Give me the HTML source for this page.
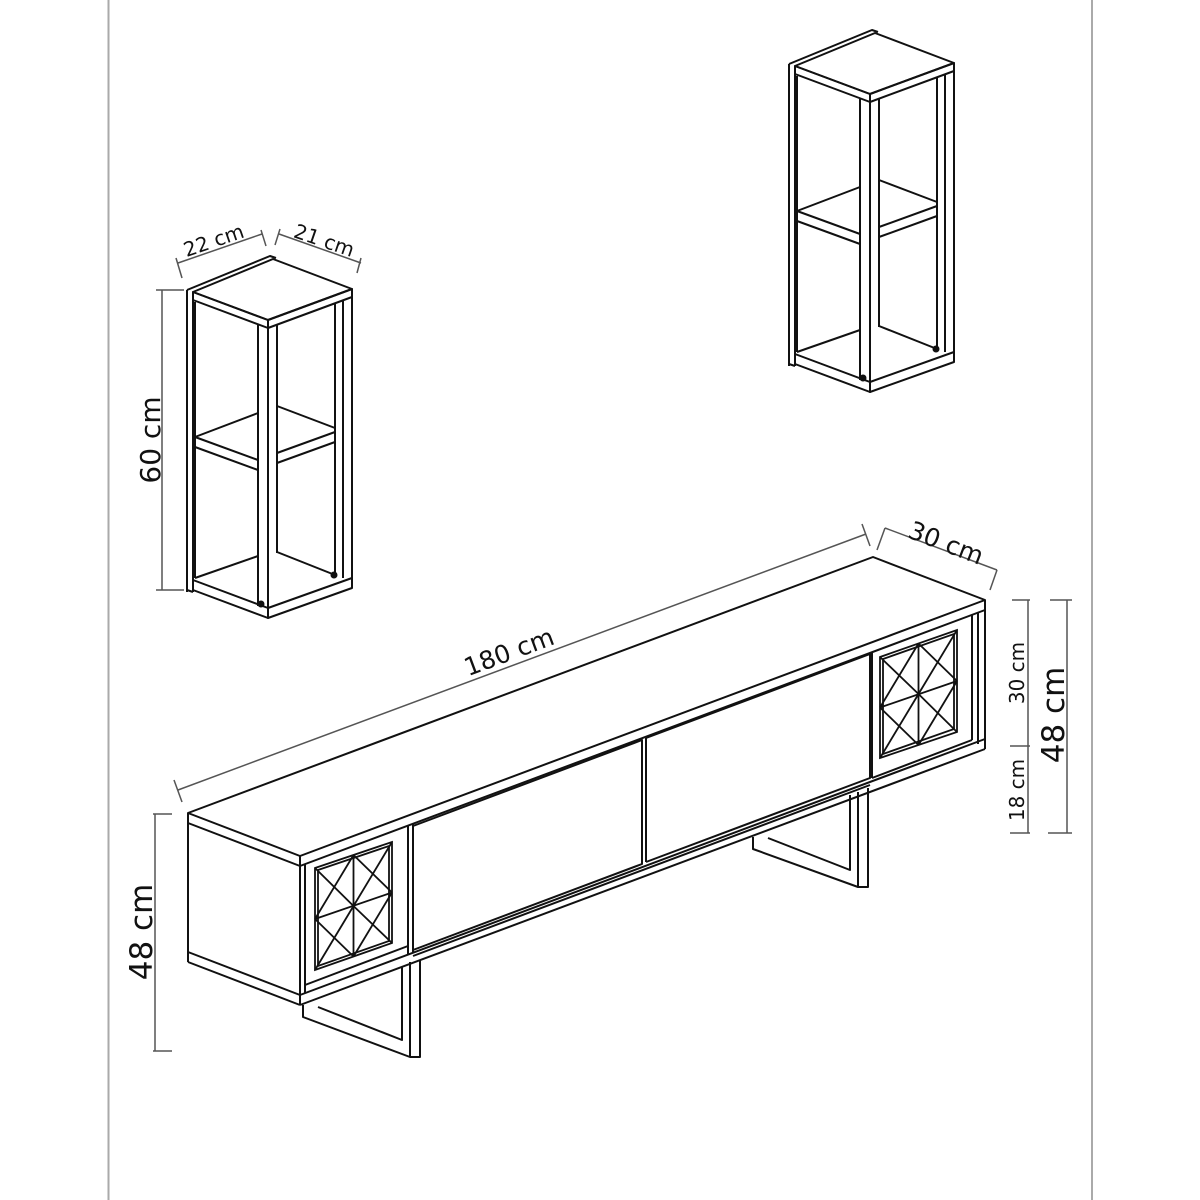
<!DOCTYPE html>
<html><head><meta charset="utf-8"><style>
html,body{margin:0;padding:0;background:#fff;width:1200px;height:1200px;overflow:hidden}
svg{display:block}
text{font-family:"DejaVu Sans","Liberation Sans",sans-serif;fill:#111}
</style></head><body>
<svg width="1200" height="1200" viewBox="0 0 1200 1200" xmlns="http://www.w3.org/2000/svg">
<rect width="1200" height="1200" fill="#fff"/>
<line x1="108.5" y1="0" x2="108.5" y2="1200" stroke="#aaa" stroke-width="2"/>
<line x1="1092" y1="0" x2="1092" y2="1200" stroke="#aaa" stroke-width="2"/>

<defs>
<g id="shelf" fill="none" stroke="#111" stroke-width="2" stroke-linejoin="round">
  <polygon points="193,292 273,259 352,289 268,320" fill="#fff"/>
  <polyline points="187,290 270,256 276,258"/>
  <polygon points="193,292 268,320 268,328 193,300"/>
  <polygon points="268,320 352,289 352,297 268,328"/>
  <line x1="187" y1="290" x2="187" y2="592"/>
  <line x1="193" y1="300" x2="193" y2="592"/>
  <line x1="195" y1="302" x2="195" y2="578"/>
  <line x1="258" y1="325" x2="258" y2="606"/>
  <line x1="268" y1="328" x2="268" y2="610"/>
  <line x1="277" y1="325" x2="277" y2="553"/>
  <line x1="335" y1="303" x2="335" y2="575"/>
  <line x1="343" y1="300" x2="343" y2="578"/>
  <line x1="352" y1="297" x2="352" y2="580"/>
  <polyline points="195,437 258,413"/>
  <polyline points="277,406 335,428"/>
  <polyline points="195,437 258,460"/>
  <polyline points="195,447 258,470"/>
  <polyline points="277,453 335,432"/>
  <polyline points="277,463 335,442"/>
  <polyline points="195,578 258,556"/>
  <polyline points="277,552 335,575"/>
  <polygon points="193,580 268,608 268,618 193,590"/>
  <polygon points="268,608 352,578 352,588 268,618"/>
  <line x1="187" y1="590" x2="193" y2="592"/>
  <circle cx="261" cy="604" r="2.5" fill="#111"/>
  <circle cx="334" cy="575" r="2.5" fill="#111"/>
</g>
</defs>

<use href="#shelf"/>
<use href="#shelf" transform="translate(602,-226)"/>

<g stroke="#555" stroke-width="1.5" fill="none">
  <line x1="162" y1="290" x2="162" y2="590"/>
  <line x1="156" y1="290" x2="184" y2="290"/>
  <line x1="156" y1="590" x2="184" y2="590"/>
  <line x1="178" y1="263" x2="262" y2="234"/>
  <line x1="176" y1="258" x2="182" y2="278"/>
  <line x1="261" y1="230" x2="266" y2="246"/>
  <line x1="279" y1="234" x2="361" y2="263"/>
  <line x1="280" y1="229" x2="275" y2="245"/>
  <line x1="361" y1="258" x2="357" y2="273"/>
</g>
<text x="0" y="0" font-size="28" text-anchor="middle" transform="translate(160,440) rotate(-90)">60 cm</text>
<text x="0" y="0" font-size="20" text-anchor="middle" transform="translate(216,247) rotate(-19)">22 cm</text>
<text x="0" y="0" font-size="20" text-anchor="middle" transform="translate(322,247) rotate(19)">21 cm</text>

<g fill="none" stroke="#111" stroke-width="2" stroke-linejoin="round">
  <polygon points="188,813 873,557 985,600 300,856" fill="#fff"/>
  <line x1="300" y1="866" x2="985" y2="610"/>
  <line x1="188" y1="823" x2="300" y2="866"/>
  <line x1="188" y1="813" x2="188" y2="962"/>
  <line x1="188" y1="962" x2="300" y2="1005"/>
  <line x1="188" y1="952" x2="300" y2="995"/>
  <line x1="300" y1="856" x2="300" y2="1005"/>
  <line x1="300" y1="1005" x2="985" y2="749"/>
  <line x1="300" y1="995" x2="985" y2="739"/>
  <line x1="985" y1="600" x2="985" y2="749"/>
  <line x1="305" y1="864" x2="305" y2="993"/>
  <line x1="408" y1="826" x2="408" y2="955"/>
  <line x1="413" y1="824" x2="413" y2="953"/>
  <line x1="305" y1="985" x2="408" y2="946"/>
  <polygon points="413,826 642,740 642,864 413,950"/>
  <line x1="413" y1="956" x2="870" y2="785"/>
  <line x1="642" y1="740" x2="642" y2="864"/>
  <line x1="646" y1="738" x2="646" y2="862"/>
  <polyline points="646,738 870,654 870,778 646,862"/>
  <line x1="872" y1="653" x2="872" y2="778"/>
  <line x1="872" y1="778" x2="972" y2="740"/>
  <line x1="972" y1="615" x2="972" y2="740"/>
  <line x1="978" y1="613" x2="978" y2="744"/>
  <polyline points="303,1005 303,1017 410,1057 420,1057 420,960"/>
  <line x1="410" y1="1057" x2="410" y2="962"/>
  <polyline points="318,1007 402,1040 402,967"/>
  <polyline points="753,837 753,849 858,887 868,887 868,788"/>
  <line x1="858" y1="887" x2="858" y2="792"/>
  <polyline points="768,838 850,870 850,795"/>
</g>

<g fill="none" stroke="#111" stroke-width="1.8">
  <polygon points="315,868 392,842 392,943 315,970"/>
  <polygon points="318,870 389,846 389,941 318,966"/>
  <line x1="353.5" y1="855" x2="353.5" y2="956.5"/>
  <line x1="315" y1="919" x2="392" y2="892.5"/>
  <line x1="315" y1="868" x2="353.5" y2="906"/><line x1="353.5" y1="855" x2="315" y2="919"/>
  <line x1="353.5" y1="855" x2="392" y2="892.5"/><line x1="392" y1="842" x2="353.5" y2="906"/>
  <line x1="315" y1="919" x2="353.5" y2="956.5"/><line x1="353.5" y1="906" x2="315" y2="970"/>
  <line x1="353.5" y1="906" x2="392" y2="943"/><line x1="392" y1="892.5" x2="353.5" y2="956.5"/>
  <polygon points="880,657 957,630 957,732 880,758"/>
  <polygon points="883,659 954,634 954,729 883,754"/>
  <line x1="918.5" y1="643.5" x2="918.5" y2="745"/>
  <line x1="880" y1="707.5" x2="957" y2="681"/>
  <line x1="880" y1="657" x2="918.5" y2="694"/><line x1="918.5" y1="643.5" x2="880" y2="707.5"/>
  <line x1="918.5" y1="643.5" x2="957" y2="681"/><line x1="957" y1="630" x2="918.5" y2="694"/>
  <line x1="880" y1="707.5" x2="918.5" y2="745"/><line x1="918.5" y1="694" x2="880" y2="758"/>
  <line x1="918.5" y1="694" x2="957" y2="732"/><line x1="957" y1="681" x2="918.5" y2="745"/>
</g>

<g stroke="#555" stroke-width="1.5" fill="none">
  <line x1="178" y1="790" x2="866" y2="534"/>
  <line x1="174" y1="780" x2="182" y2="802"/>
  <line x1="862" y1="524" x2="870" y2="546"/>
  <line x1="885" y1="528" x2="997" y2="570"/>
  <line x1="885" y1="528" x2="877" y2="550"/>
  <line x1="997" y1="570" x2="990" y2="590"/>
  <line x1="155" y1="814" x2="155" y2="1051"/>
  <line x1="153" y1="814" x2="172" y2="814"/>
  <line x1="153" y1="1051" x2="172" y2="1051"/>
  <line x1="1028" y1="600" x2="1028" y2="833"/>
  <line x1="1012" y1="600" x2="1030" y2="600"/>
  <line x1="1010" y1="746" x2="1030" y2="746"/>
  <line x1="1010" y1="833" x2="1030" y2="833"/>
  <line x1="1067" y1="600" x2="1067" y2="833"/>
  <line x1="1050" y1="600" x2="1072" y2="600"/>
  <line x1="1048" y1="833" x2="1072" y2="833"/>
</g>
<text x="0" y="0" font-size="25" text-anchor="middle" transform="translate(512,660) rotate(-20.5)">180 cm</text>
<text x="0" y="0" font-size="25" text-anchor="middle" transform="translate(943,551) rotate(21)">30 cm</text>
<text x="0" y="0" font-size="31" text-anchor="middle" transform="translate(152,932) rotate(-90)">48 cm</text>
<text x="0" y="0" font-size="20" text-anchor="middle" transform="translate(1024,673) rotate(-90)">30 cm</text>
<text x="0" y="0" font-size="20" text-anchor="middle" transform="translate(1024,790) rotate(-90)">18 cm</text>
<text x="0" y="0" font-size="31" text-anchor="middle" transform="translate(1064,715) rotate(-90)">48 cm</text>
</svg>
</body></html>
